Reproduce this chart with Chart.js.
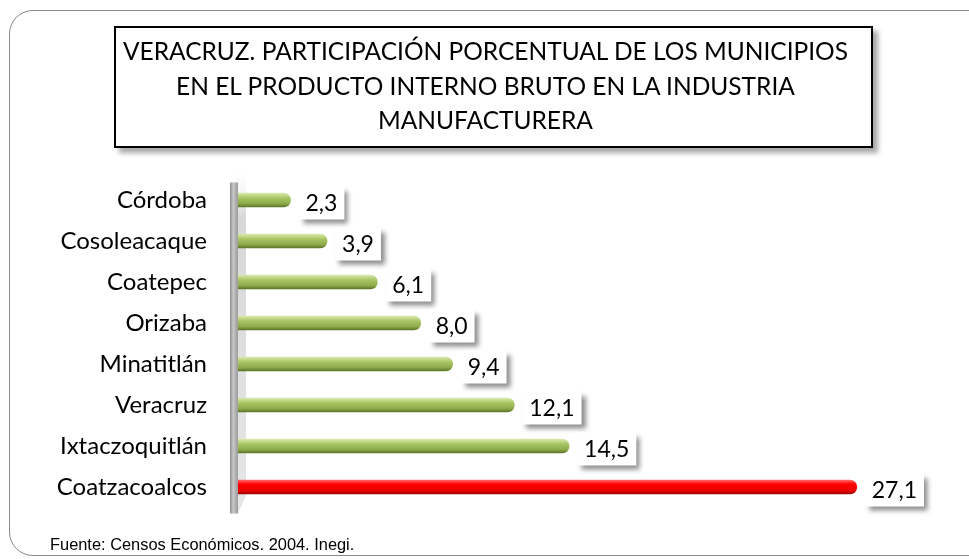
<!DOCTYPE html>
<html lang="es">
<head>
  <meta charset="UTF-8" />
  <title>Veracruz - PIB industria manufacturera</title>
  <script src="https://cdn.jsdelivr.net/npm/chart.js"></script>
  <style>
    html, body {
      margin: 0;
      padding: 0;
      background: #fff;
      overflow: hidden;
    }
    .marco {
      position: absolute;
      left: 9px;
      top: 10px;
      width: 990px;
      height: 544px;
      border: 1.5px solid #8a8a8a;
      border-radius: 24px;
    }
    #grafica {
      position: absolute;
      left: 0;
      top: 0;
    }
    .titulo {
      position: absolute;
      left: 114px;
      top: 26px;
      width: 739px;
      height: 112px;
      border: 2px solid #000;
      background: #fff;
      box-shadow: 5px 5px 5px rgba(0,0,0,0.35);
      font-family: Lato, sans-serif;
      font-size: 24.5px;
      line-height: 34.5px;
      text-align: center;
      padding-top: 6px;
      padding-right: 16px;
      box-sizing: content-box;
      color: #000;
      white-space: nowrap;
    }
    .fuente {
      position: absolute;
      left: 50px;
      top: 535px;
      font-family: "Liberation Sans", Arial, sans-serif;
      font-size: 16.4px;
      color: #000;
    }
  </style>
</head>
<body>
  <div class="marco"></div>
  <canvas id="grafica" width="969" height="559"></canvas>
  <div class="titulo">VERACRUZ. PARTICIPACIÓN PORCENTUAL DE LOS MUNICIPIOS<br>EN EL PRODUCTO INTERNO BRUTO EN LA INDUSTRIA<br>MANUFACTURERA</div>
  <div class="fuente">Fuente: Censos Económicos. 2004. Inegi.</div>

  <script>
    const municipios = ["Córdoba", "Cosoleacaque", "Coatepec", "Orizaba", "Minatitlán", "Veracruz", "Ixtaczoquitlán", "Coatzacoalcos"];
    const participacion = [2.3, 3.9, 6.1, 8.0, 9.4, 12.1, 14.5, 27.1];
    const destacado = "Coatzacoalcos";

    const fmt = v => v.toFixed(1).replace(".", ",");

    // degradado vertical de cada barra (verde normal, rojo el destacado)
    function colorBarra(ctx) {
      const chart = ctx.chart;
      if (!chart.chartArea || !chart.scales.y) return "#9bbb59";
      const yc = chart.scales.y.getPixelForValue(ctx.dataIndex);
      const g = chart.ctx.createLinearGradient(0, yc - 7, 0, yc + 7);
      if (municipios[ctx.dataIndex] === destacado) {
        g.addColorStop(0, "#ff6a6a");
        g.addColorStop(0.3, "#ff0000");
        g.addColorStop(0.75, "#e80000");
        g.addColorStop(1, "#a00000");
      } else {
        g.addColorStop(0, "#d9e8ad");
        g.addColorStop(0.35, "#a9c665");
        g.addColorStop(0.75, "#8eab4c");
        g.addColorStop(1, "#5d7628");
      }
      return g;
    }

    // pared gris del eje vertical
    const pared = {
      id: "pared",
      beforeDatasetsDraw(chart) {
        const c = chart.ctx;
        const a = chart.chartArea;
        const x0 = a.left - 8, top = a.top + 3, bot = a.bottom + 6;
        c.save();
        const g2 = c.createLinearGradient(0, top - 18, 0, bot);
        g2.addColorStop(0, "rgba(255,255,255,0)");
        g2.addColorStop(0.15, "rgba(195,195,195,0.65)");
        g2.addColorStop(1, "rgba(210,210,210,0.55)");
        c.fillStyle = g2;
        c.beginPath();
        c.moveTo(x0 + 2, top);
        c.lineTo(x0 + 16, top - 18);
        c.lineTo(x0 + 16, bot - 18);
        c.lineTo(x0 + 8, bot);
        c.closePath();
        c.fill();
        const g = c.createLinearGradient(x0, 0, x0 + 8, 0);
        g.addColorStop(0, "#8c8c8c");
        g.addColorStop(0.4, "#c8c8c8");
        g.addColorStop(1, "#9a9a9a");
        c.fillStyle = g;
        c.fillRect(x0, top, 8, bot - top);
        c.restore();
      }
    };

    // recuadros con el valor al final de cada barra
    const valores = {
      id: "valores",
      afterDatasetsDraw(chart) {
        const c = chart.ctx;
        const meta = chart.getDatasetMeta(0);
        c.save();
        c.font = "23px Lato, sans-serif";
        c.textBaseline = "middle";
        c.textAlign = "left";
        meta.data.forEach((bar, i) => {
          const txt = fmt(participacion[i]);
          const w = c.measureText(txt).width + 14;
          const h = 33;
          const x = bar.x + 8;
          const y = bar.y + 3 - h / 2;
          c.shadowColor = "rgba(0,0,0,0.45)";
          c.shadowBlur = 5;
          c.shadowOffsetX = 4;
          c.shadowOffsetY = 4;
          c.fillStyle = "#fff";
          c.fillRect(x, y, w, h);
          c.shadowColor = "transparent";
          c.fillStyle = "#000";
          c.fillText(txt, x + 7, y + h / 2 + 1);
        });
        c.restore();
      }
    };

    new Chart(document.getElementById("grafica"), {
      type: "bar",
      data: {
        labels: municipios,
        datasets: [{
          data: participacion,
          backgroundColor: colorBarra,
          barThickness: 14,
          borderRadius: { topRight: 7, bottomRight: 7, topLeft: 0, bottomLeft: 0 },
          borderSkipped: false
        }]
      },
      options: {
        indexAxis: "y",
        responsive: false,
        animation: false,
        events: [],
        layout: {
          padding: { left: 0, right: 46, top: 179.5, bottom: 51.5 }
        },
        plugins: {
          legend: { display: false },
          tooltip: { enabled: false }
        },
        scales: {
          x: {
            display: false,
            min: 0,
            max: 30
          },
          y: {
            afterFit(scale) { scale.width = 238; },
            grid: { display: false, drawTicks: false },
            border: { display: false },
            ticks: {
              padding: 31,
              color: "#000",
              font: { family: "Lato, sans-serif", size: 24 }
            }
          }
        }
      },
      plugins: [pared, valores]
    });
  </script>
</body>
</html>
